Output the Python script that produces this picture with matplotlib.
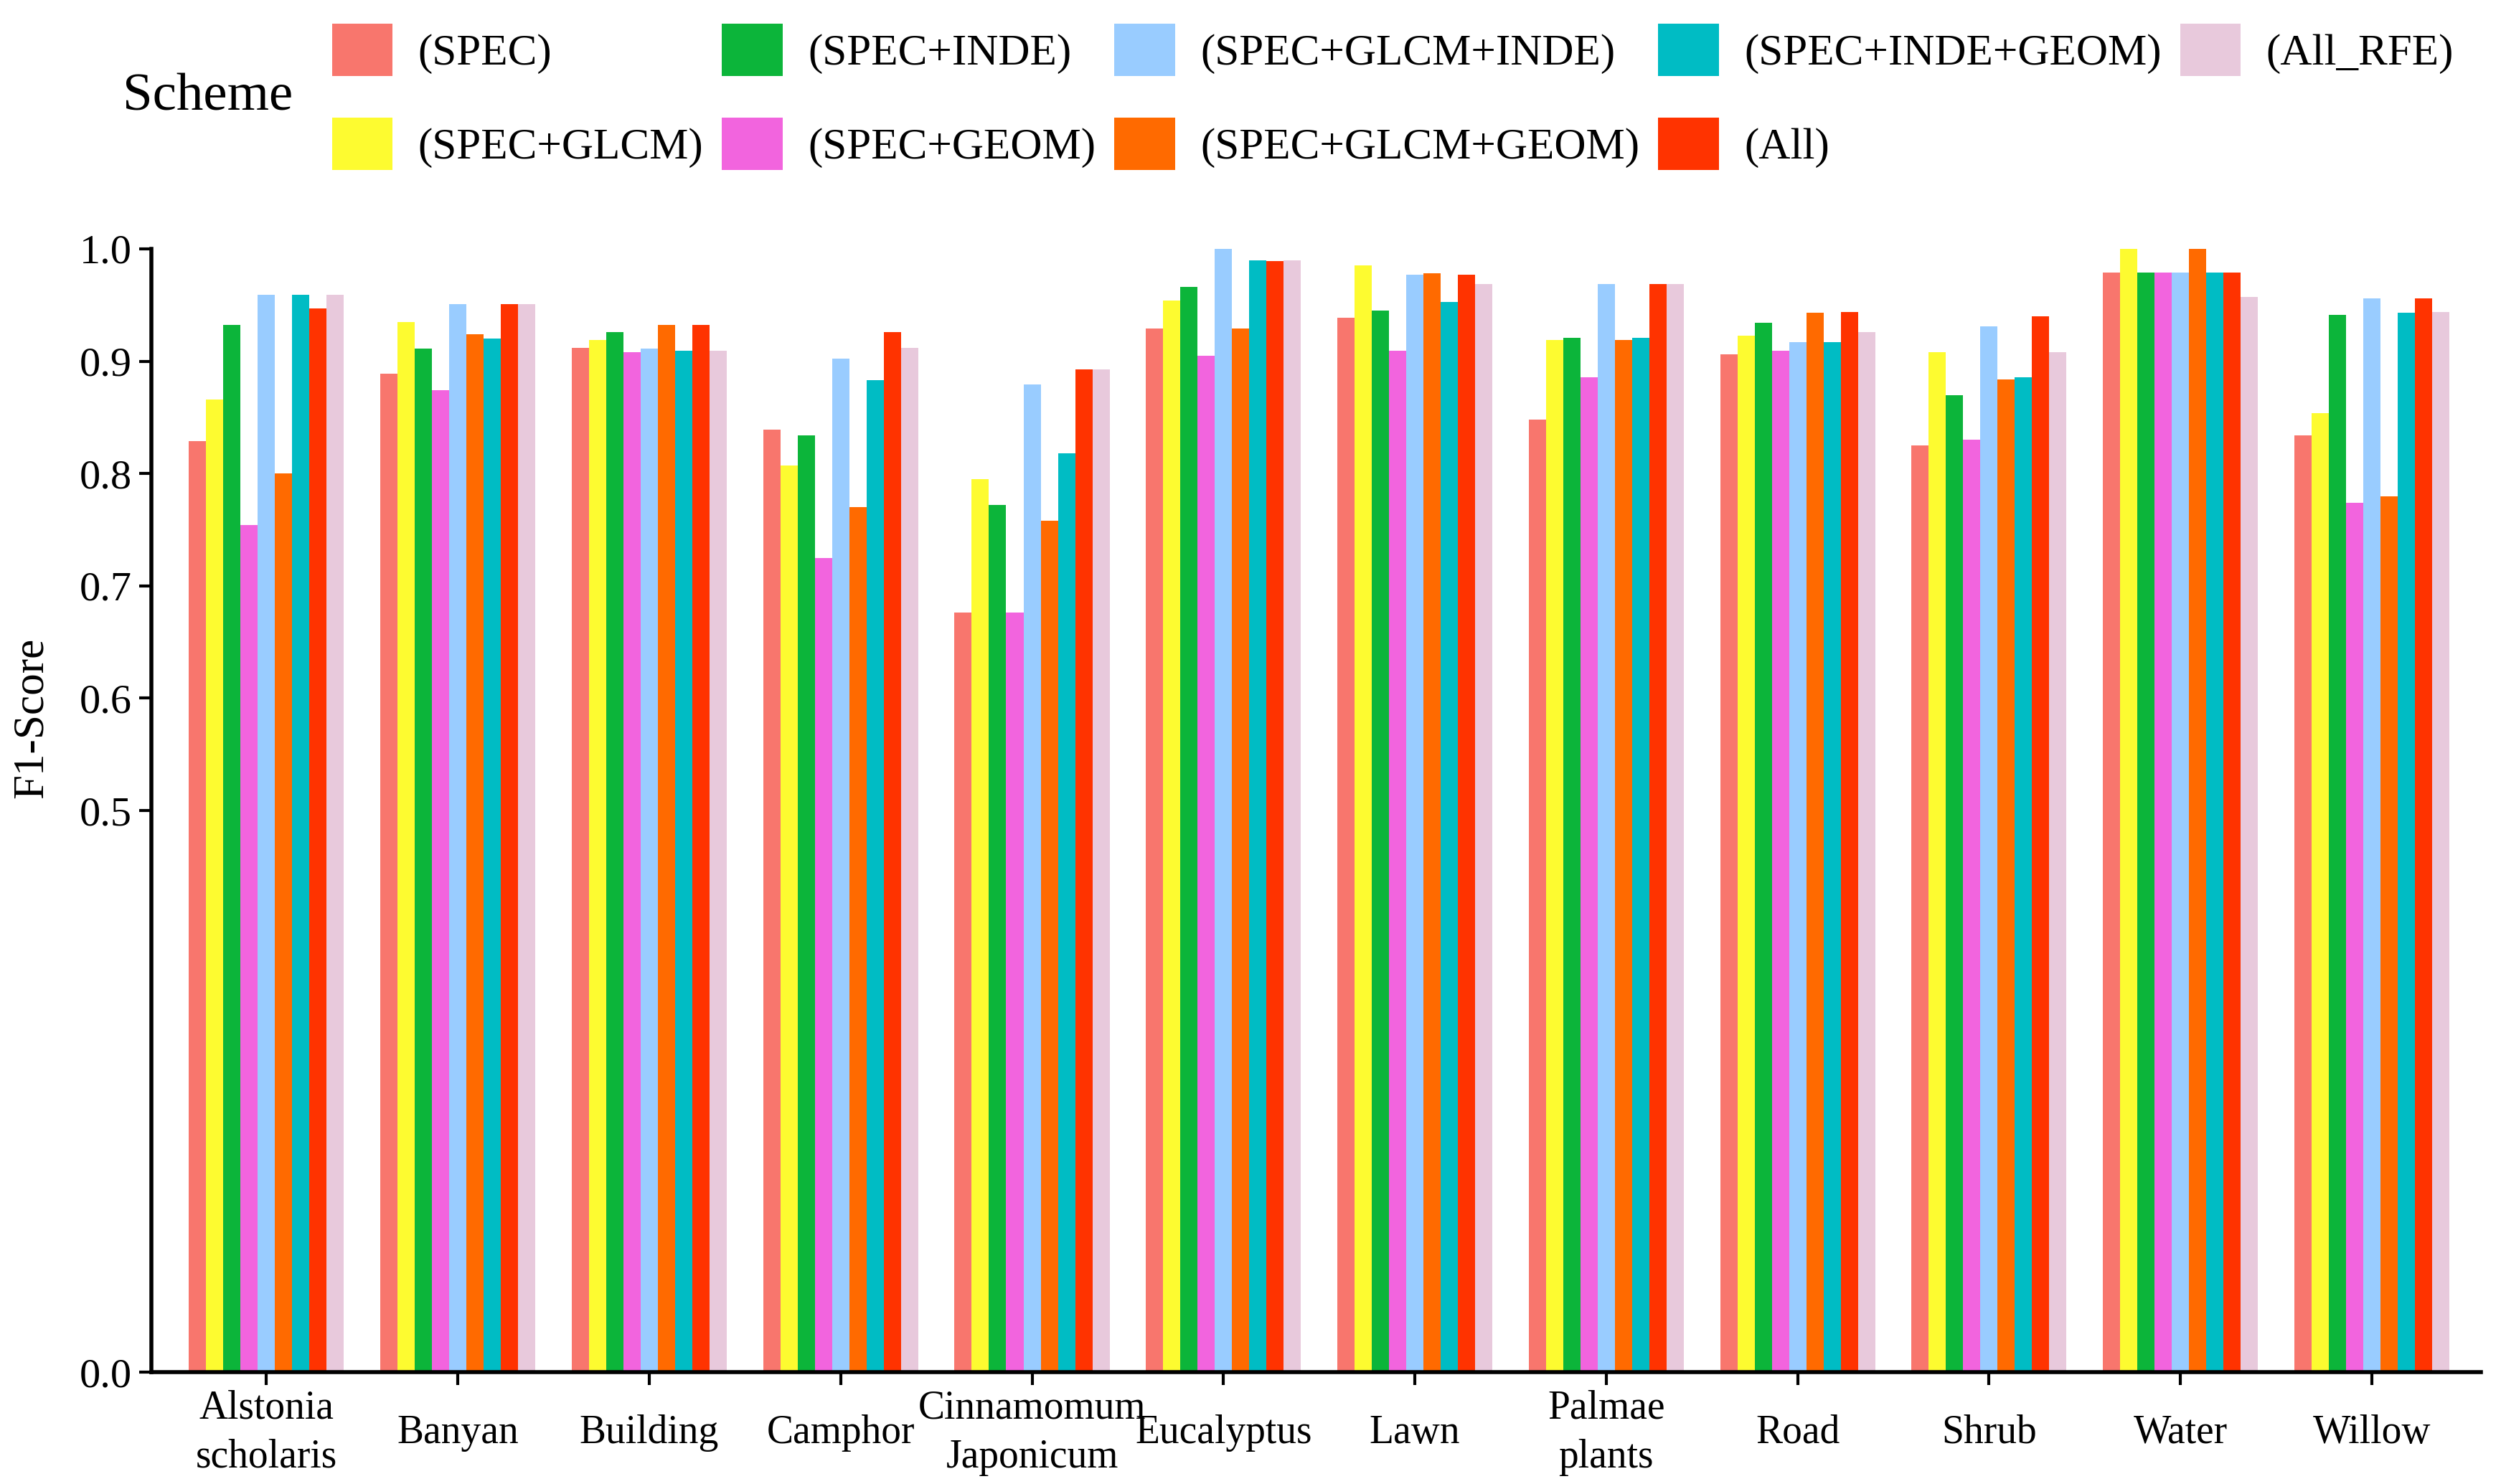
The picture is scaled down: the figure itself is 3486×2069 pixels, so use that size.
import matplotlib.pyplot as plt
import numpy as np

plt.rcParams['font.family'] = ['Liberation Serif', 'DejaVu Serif']

# classes
categories = ['Alstonia\nscholaris', 'Banyan', 'Building', 'Camphor', 'Cinnamomum\nJaponicum',
              'Eucalyptus', 'Lawn', 'Palmae\nplants', 'Road', 'Shrub', 'Water', 'Willow']

# F1-score for each scheme
spec = [0.829, 0.889, 0.912, 0.839, 0.676, 0.929, 0.939, 0.848, 0.906, 0.825, 0.979, 0.834]
spec_glcm = [0.866, 0.935, 0.919, 0.807, 0.795, 0.954, 0.985, 0.919, 0.923, 0.908, 1.000, 0.854]
spec_inde = [0.932, 0.911, 0.926, 0.834, 0.772, 0.966, 0.945, 0.921, 0.934, 0.870, 0.979, 0.941]
spec_geom = [0.754, 0.874, 0.908, 0.725, 0.676, 0.905, 0.909, 0.886, 0.909, 0.830, 0.979, 0.774]
spec_glcm_inde = [0.959, 0.951, 0.911, 0.902, 0.879, 1.000, 0.977, 0.969, 0.917, 0.931, 0.979, 0.956]
spec_glcm_geom = [0.800, 0.924, 0.932, 0.770, 0.758, 0.929, 0.978, 0.919, 0.943, 0.884, 1.000, 0.780]
spec_inde_geom = [0.959, 0.920, 0.909, 0.883, 0.818, 0.990, 0.953, 0.921, 0.917, 0.886, 0.979, 0.943]
all_feat = [0.947, 0.951, 0.932, 0.926, 0.893, 0.989, 0.977, 0.969, 0.944, 0.940, 0.979, 0.956]
all_rfe = [0.959, 0.951, 0.909, 0.912, 0.893, 0.990, 0.969, 0.969, 0.926, 0.908, 0.957, 0.944]

series = [spec, spec_glcm, spec_inde, spec_geom, spec_glcm_inde,
          spec_glcm_geom, spec_inde_geom, all_feat, all_rfe]
labels = ['(SPEC)', '(SPEC+GLCM)', '(SPEC+INDE)', '(SPEC+GEOM)', '(SPEC+GLCM+INDE)',
          '(SPEC+GLCM+GEOM)', '(SPEC+INDE+GEOM)', '(All)', '(All_RFE)']
colors = ['#F8766D', '#FDFB30', '#0CB53A', '#F264DE', '#99CCFF',
          '#FF6A00', '#00BCC4', '#FF3300', '#E8C9DC']

fig = plt.figure(figsize=(17.435, 10.345), dpi=200)
ax = fig.add_axes([0.0606, 0.0753, 0.9311, 0.757])

x = np.arange(len(categories))
w = 0.09
for j, (vals, lab, col) in enumerate(zip(series, labels, colors)):
    ax.bar(x + (j - 4) * w, vals, width=w, color=col, label=lab)

ax.set_xlim(-0.6, 11.57)
ax.set_ylim(0, 1.0)
ax.set_yticks([0.0, 0.5, 0.6, 0.7, 0.8, 0.9, 1.0])
ax.set_yticklabels(['0.0', '0.5', '0.6', '0.7', '0.8', '0.9', '1.0'], fontsize=21)
ax.set_xticks(x)
ax.set_xticklabels(categories, fontsize=20, linespacing=1.4)
for lbl in ax.get_xticklabels():
    lbl.set_va('center')
ax.tick_params(axis='x', length=6.5, width=1.5, pad=24)
ax.tick_params(axis='y', length=6, width=1.5, pad=4)

for s in ['top', 'right']:
    ax.spines[s].set_visible(False)
for s in ['left', 'bottom']:
    ax.spines[s].set_linewidth(2)

fig.text(20 / 1568, 1 - 450 / 930, 'F1-Score', rotation=90, ha='center', va='center', fontsize=22)

# legend
fig.text(77 / 1568, 1 - 61 / 930, 'Scheme', ha='left', va='center', fontsize=27)
fig.legend(loc='upper left', bbox_to_anchor=(208 / 1568, 1 - 15 / 930), ncol=5, frameon=False,
           fontsize=22, handlelength=1.38, handleheight=1.45, handletextpad=0.58,
           labelspacing=0.95, columnspacing=0.43, borderpad=0, borderaxespad=0)

plt.savefig('out.png', dpi=200)
